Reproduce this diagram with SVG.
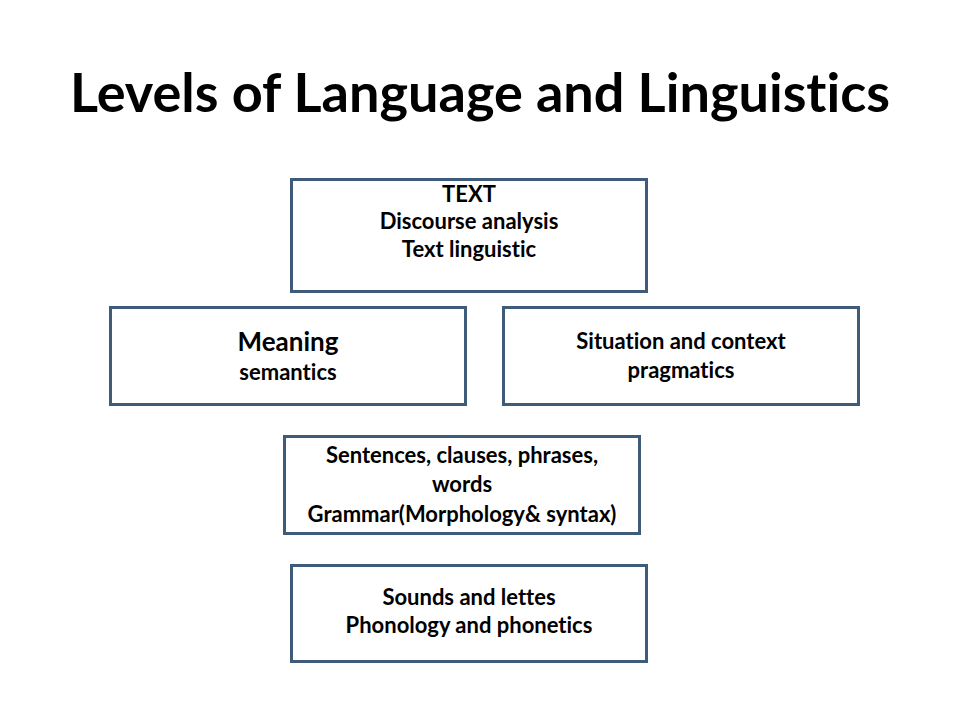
<svg xmlns="http://www.w3.org/2000/svg" width="960" height="720" viewBox="0 0 960 720">
<style>
.box{fill:#ffffff;stroke:#3f5b7a;stroke-width:3}
.t{font-family:Lato,"Open Sans","Liberation Sans",sans-serif;font-weight:bold;fill:#000;text-anchor:middle;font-size:22px;font-variant-ligatures:none}
.title{font-family:Lato,"Open Sans","Liberation Sans",sans-serif;font-weight:bold;fill:#000;text-anchor:middle;font-size:54px;font-variant-ligatures:none}
</style>
<rect width="960" height="720" fill="#ffffff"/>
<text class="title" x="480" y="112" textLength="820" lengthAdjust="spacingAndGlyphs">Levels of Language and Linguistics</text>
<g id="connectors"></g>
<g id="node-text">
<rect class="box" x="291.5" y="179.5" width="355" height="112"/>
<text class="t" x="469" y="202">TEXT</text>
<text class="t" x="469" y="229">Discourse analysis</text>
<text class="t" x="469" y="257">Text linguistic</text>
</g>
<g id="node-meaning">
<rect class="box" x="110.5" y="307.5" width="355" height="97"/>
<text class="t" x="288" y="351" style="font-size:26px">Meaning</text>
<text class="t" x="288" y="380">semantics</text>
</g>
<g id="node-situation">
<rect class="box" x="503.5" y="307.5" width="355" height="97"/>
<text class="t" x="681" y="349">Situation and context</text>
<text class="t" x="681" y="378">pragmatics</text>
</g>
<g id="node-grammar">
<rect class="box" x="284.5" y="436.5" width="355" height="97"/>
<text class="t" x="462" y="463">Sentences, clauses, phrases,</text>
<text class="t" x="462" y="492">words</text>
<text class="t" x="462" y="522">Grammar(Morphology&amp; syntax)</text>
</g>
<g id="node-phonology">
<rect class="box" x="291.5" y="565.5" width="355" height="96"/>
<text class="t" x="469" y="605">Sounds and lettes</text>
<text class="t" x="469" y="633">Phonology and phonetics</text>
</g>
</svg>
